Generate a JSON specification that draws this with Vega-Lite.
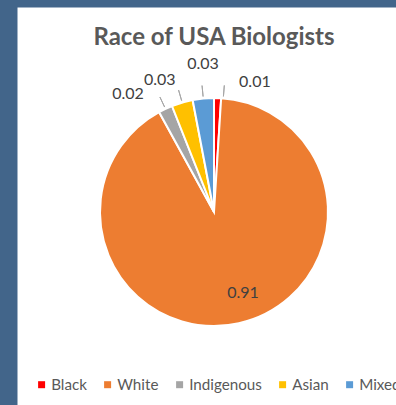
{
  "$schema": "https://vega.github.io/schema/vega-lite/v6.json",
  "width": 394,
  "height": 410,
  "autosize": {"type": "none"},
  "padding": {"left": 17, "top": 7, "right": 0, "bottom": 0},
  "background": "#42658A",
  "view": {"fill": "white", "stroke": "transparent"},
  "title": {
    "text": "Race of USA Biologists",
    "font": "Lato",
    "fontSize": 24,
    "fontWeight": "bold",
    "color": "#595959",
    "anchor": "middle",
    "dy": 47
  },
  "config": {
    "legend": {
      "symbolType": "square",
      "symbolSize": 49,
      "symbolStrokeWidth": 0,
      "labelFont": "Lato",
      "labelFontSize": 15.2,
      "labelColor": "#595959",
      "labelOffset": 2,
      "columnPadding": 13
    }
  },
  "data": {
    "values": [
      {"Race": "Black", "share": 0.01},
      {"Race": "White", "share": 0.91},
      {"Race": "Indigenous", "share": 0.02},
      {"Race": "Asian", "share": 0.03},
      {"Race": "Mixed", "share": 0.03}
    ]
  },
  "transform": [
    {"window": [{"op": "row_number", "as": "slice_order"}]}
  ],
  "encoding": {
    "theta": {"field": "share", "type": "quantitative", "stack": true},
    "order": {"field": "slice_order", "type": "quantitative"},
    "color": {
      "field": "Race",
      "type": "nominal",
      "sort": ["Black", "White", "Indigenous", "Asian", "Mixed"],
      "scale": {
        "domain": ["Black", "White", "Indigenous", "Asian", "Mixed"],
        "range": ["#FF0000", "#ED7D31", "#A5A5A5", "#FFC000", "#5B9BD5"]
      },
      "legend": {
        "title": null,
        "orient": "none",
        "direction": "horizontal",
        "columns": 5,
        "legendX": 17,
        "legendY": 370
      }
    }
  },
  "layer": [
    {
      "mark": {"type": "arc", "outerRadius": 114, "stroke": "white", "strokeWidth": 2}
    },
    {
      "mark": {
        "type": "arc",
        "innerRadius": 116,
        "outerRadius": 127,
        "padAngle": 0.8,
        "thetaOffset": {"expr": "datum.Race === 'Black' ? 0.05 : 0"}
      },
      "encoding": {
        "fill": {"value": "transparent"},
        "stroke": {
          "condition": {"test": "datum.Race === 'White'", "value": "transparent"},
          "value": "#A6A6A6"
        },
        "strokeWidth": {"value": 1}
      }
    },
    {
      "mark": {
        "type": "text",
        "font": "Lato",
        "fontSize": 16,
        "radius": {"expr": "datum.Race === 'White' ? 86 : datum.Race === 'Black' ? 136 : datum.Race === 'Mixed' ? 148 : datum.Race === 'Asian' ? 143 : 146"},
        "thetaOffset": {"expr": "datum.Race === 'White' ? -0.124 : datum.Race === 'Black' ? 0.274 : datum.Race === 'Mixed' ? 0.02 : datum.Race === 'Asian' ? -0.106 : -0.19"}
      },
      "encoding": {
        "text": {"field": "share", "type": "quantitative", "format": ".2f"},
        "fill": {"value": "#404040"}
      }
    }
  ]
}
